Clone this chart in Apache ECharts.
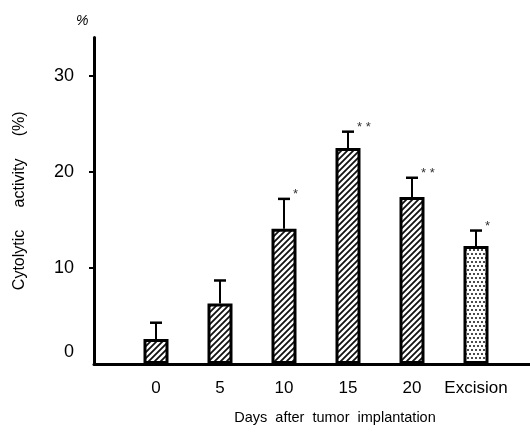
<!DOCTYPE html>
<html><head><meta charset="utf-8">
<script src="https://cdn.jsdelivr.net/npm/echarts@6/dist/echarts.min.js"></script>
<style>html,body{margin:0;padding:0;background:#fff}#c{width:530px;height:434px}</style>
</head><body><div id="c"></div>
<script>
const categories = ['0', '5', '10', '15', '20', 'Excision'];
const means = [2.6, 6.3, 14.1, 22.5, 17.4, 12.3];
const errors = [1.7, 2.4, 3.1, 1.7, 2.0, 1.6];
const signif = ['', '', '*', '**', '**', '*'];
const yTicks = [0, 10, 20, 30];

const FONT = '"Liberation Sans Narrow", "Liberation Sans", Arial, sans-serif';

function hatch() {
  const c = document.createElement('canvas'); c.width = 6; c.height = 6;
  const g = c.getContext('2d');
  g.fillStyle = '#fff'; g.fillRect(0, 0, 6, 6);
  g.strokeStyle = '#111'; g.lineWidth = 1.8;
  g.beginPath();
  g.moveTo(-1, 7); g.lineTo(7, -1);
  g.moveTo(-1, 1); g.lineTo(1, -1);
  g.moveTo(5, 7); g.lineTo(7, 5);
  g.stroke();
  return c;
}
function dots() {
  const c = document.createElement('canvas'); c.width = 8; c.height = 8;
  const g = c.getContext('2d');
  g.fillStyle = '#fff'; g.fillRect(0, 0, 8, 8);
  g.fillStyle = '#111';
  [[2, 2], [6, 2], [0, 6], [4, 6], [8, 6]].forEach(p => { g.beginPath(); g.arc(p[0], p[1], 1.0, 0, Math.PI * 2); g.fill(); });
  return c;
}
const hatchPat = { image: hatch(), repeat: 'repeat' };
const dotPat = { image: dots(), repeat: 'repeat' };

const chart = echarts.init(document.getElementById('c'));
const gTop = 37.6, gBottom = 70;
chart.setOption({
  animation: false,
  grid: [
    { left: 94, right: 0, top: gTop, bottom: gBottom },
    { left: 124, width: 384, top: gTop, bottom: gBottom }
  ],
  xAxis: [
    { gridIndex: 0, type: 'value', min: 0, max: 1,
      axisLine: { show: true, lineStyle: { color: '#000', width: 3 } },
      axisTick: { show: false }, axisLabel: { show: false }, splitLine: { show: false } },
    { gridIndex: 1, type: 'category', data: categories,
      axisLine: { show: false }, axisTick: { show: false }, splitLine: { show: false },
      axisLabel: { color: '#000', fontSize: 17, fontFamily: FONT, margin: 16, interval: 0 } }
  ],
  yAxis: [
    { gridIndex: 0, type: 'value', min: 0, max: 34, interval: 10,
      axisLine: { show: true, lineStyle: { color: '#000', width: 3 } },
      axisTick: { show: true, length: 5, customValues: [10, 20, 30], lineStyle: { color: '#000', width: 2 } },
      splitLine: { show: false },
      axisLabel: { color: '#000', fontSize: 18, fontFamily: FONT, margin: 20,
        customValues: yTicks,
        formatter: v => (v === 0 ? '{z|0}' : String(v)),
        rich: { z: { fontSize: 18, fontFamily: FONT, color: '#000', padding: [0, 0, 24, 0] } } },
      name: 'Cytolytic     activity     (%)', nameLocation: 'middle', nameGap: 66,
      nameTextStyle: { color: '#000', fontSize: 16, fontFamily: FONT } },
    { gridIndex: 1, type: 'value', min: 0, max: 34, show: false }
  ],
  graphic: [
    { type: 'text', left: 76, top: 14, style: { text: '%', font: 'italic 14px ' + FONT, fill: '#000' } },
    { type: 'text', x: 335, y: 418, style: { text: 'Days  after  tumor  implantation', font: '14.5px ' + FONT, fill: '#000', textAlign: 'center', textVerticalAlign: 'middle' } }
  ],
  series: [
    { type: 'bar', xAxisIndex: 1, yAxisIndex: 1, barWidth: 25,
      data: means.map((v, i) => ({ value: v, itemStyle: { color: i === 5 ? dotPat : hatchPat } })),
      itemStyle: { borderColor: '#000', borderWidth: 3 } },
    { type: 'custom', xAxisIndex: 1, yAxisIndex: 1,
      data: means.map((v, i) => [i, v, v + errors[i]]),
      renderItem: function (params, api) {
        const i = api.value(0);
        const p0 = api.coord([i, api.value(1)]);
        const p1 = api.coord([i, api.value(2)]);
        const children = [
          { type: 'line', shape: { x1: p0[0], y1: p0[1], x2: p1[0], y2: p1[1] }, style: { stroke: '#000', lineWidth: 2 } },
          { type: 'line', shape: { x1: p1[0] - 6, y1: p1[1], x2: p1[0] + 6, y2: p1[1] }, style: { stroke: '#000', lineWidth: 2.5 } }
        ];
        const s = signif[params.dataIndex];
        if (s) children.push({ type: 'text', x: p1[0] + 9, y: p1[1] - 4,
          style: { text: s.split('').join(' '), font: '13px ' + FONT, fill: '#333', textVerticalAlign: 'middle' } });
        return { type: 'group', children: children };
      } }
  ]
});
</script></body></html>
